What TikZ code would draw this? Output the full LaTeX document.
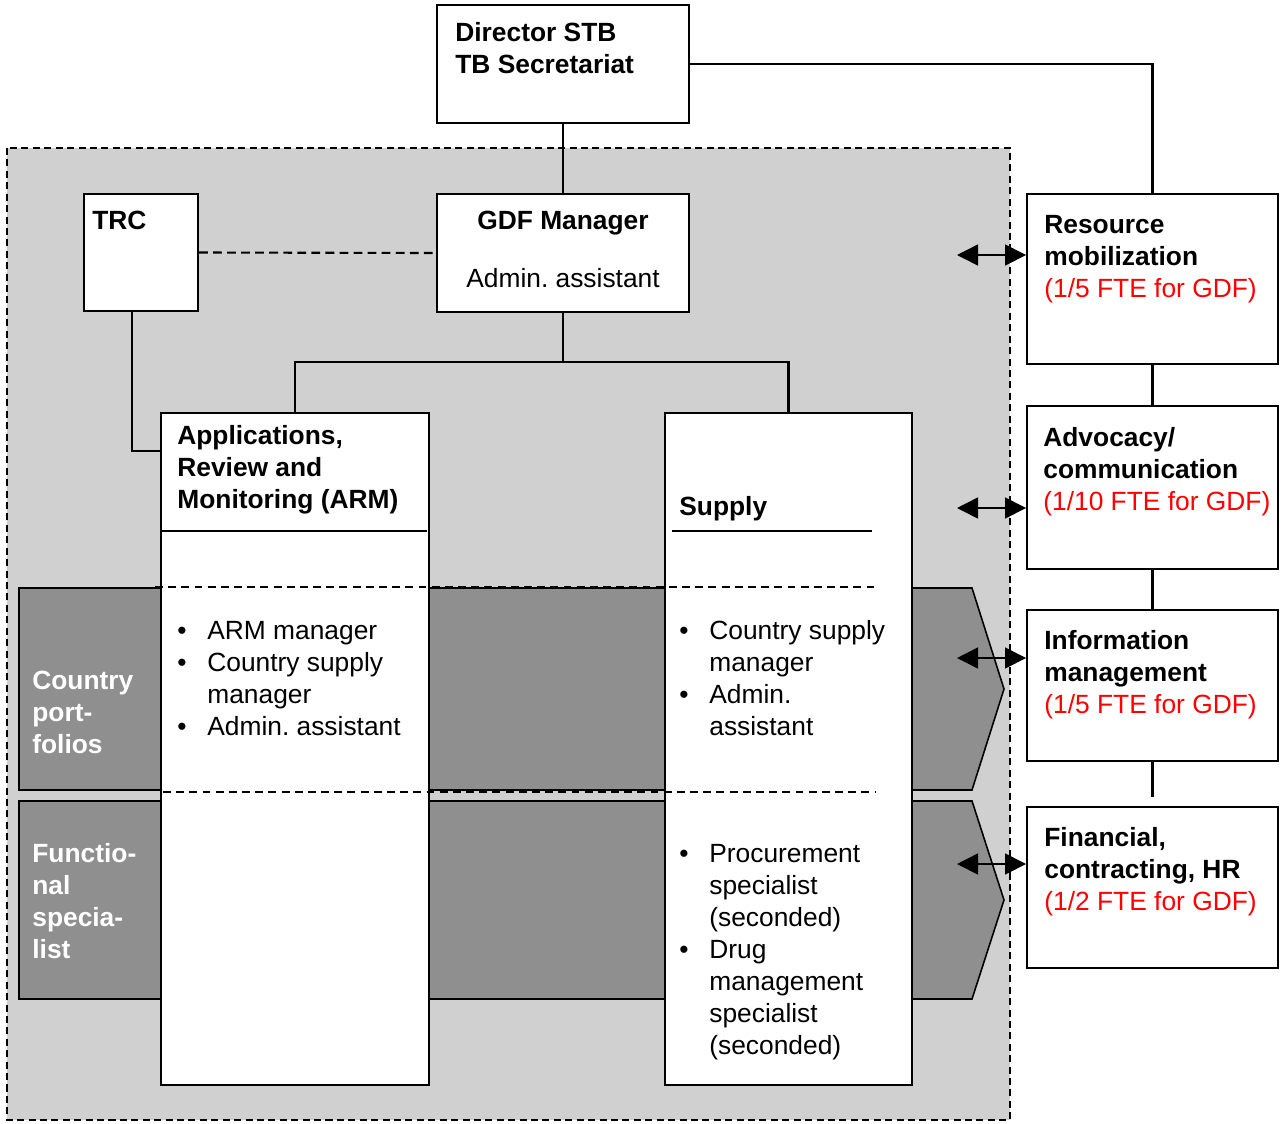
\documentclass[tikz,border=0pt]{standalone}
\usepackage{fontspec}
\setmainfont{Liberation Sans}
\usetikzlibrary{fit,arrows.meta}
\definecolor{paneGray}{HTML}{D0D0D0}
\definecolor{bandGray}{HTML}{8F8F8F}
\definecolor{fteRed}{HTML}{FF0000}
\newcommand{\itm}{\makebox[0.6cm][l]{\textbullet}}
\newcommand{\ind}{\hspace*{0.6cm}}
\frenchspacing

\begin{document}
\begin{tikzpicture}[x=0.02cm,y=-0.02cm,
  box/.style={draw,fill=white,line width=1.1pt,inner sep=0pt},
  txt/.style={anchor=north west,inner sep=0pt,align=left,font=\fontsize{15}{18.2}\selectfont},
  ctxt/.style={anchor=north,inner sep=0pt,font=\fontsize{15}{18.2}\selectfont},
  band/.style={draw,fill=bandGray,line width=0.9pt},
  wire/.style={line width=1.3pt},
  dashline/.style={line width=0.9pt,dash pattern=on 4.5pt off 3pt},
  dbl/.style={line width=0.9pt,{Triangle[length=0.42cm,width=0.42cm]}-{Triangle[length=0.42cm,width=0.42cm]}}]
\useasboundingbox (0,0) rectangle (1287,1123);
% grey GDF area
\draw [fill=paneGray, line width=0.8pt, dash pattern=on 4pt off 2.5pt] (7,148) rectangle (1010,1120);
% the two rows
\draw [band] (19,588) -- (972,588) -- (1004,689) -- (972,790) -- (19,790) -- cycle;
\draw [band] (19,801) -- (972,801) -- (1004,900) -- (972,999) -- (19,999) -- cycle;
% boxes
\node [box, fit={(437,5) (689,123)}] (dir) {};
\node [box, fit={(84,194) (198,311)}] (trc) {};
\node [box, fit={(437,194) (689,312)}] (gdf) {};
\node [box, fit={(161,413) (429,1085)}] (arm) {};
\node [box, fit={(665,413) (912,1085)}] (sup) {};
\node [box, fit={(1027,194) (1278,364)}] (res) {};
\node [box, fit={(1027,406) (1278,569)}] (adv) {};
\node [box, fit={(1027,610) (1278,761)}] (info) {};
\node [box, fit={(1027,807) (1278,968)}] (fin) {};
\draw [line width=0.9pt] (161,531) -- (427,531);
\draw [line width=0.9pt] (672,531) -- (872,531);
\draw [dashline] (155,587) -- (878,587);
\draw [dashline] (163,792) -- (875,792);
% connectors
\coordinate (split) at (563,362);
\coordinate (trcfoot) at (132,451);
\draw [wire] (dir.south) -- (gdf.north);
\draw [wire] (gdf.south) -- (split) -| (arm.north);
\draw [wire] (split) -| (sup.north);
\draw [wire] (trc.south -| trcfoot) -- (trcfoot) -- (trcfoot -| arm.west);
\draw [line width=1.2pt, dash pattern=on 5pt off 3pt] (trc.east) -- (gdf.west);
\draw [wire] (dir.east) -| (res.north);
\draw [wire] (res.south) -- (adv.north);
\draw [wire] (adv.south) -- (info.north);
\draw [wire] (info.south) -- ++(0,35);
\coordinate (ar1) at (957,255);
\coordinate (ar2) at (957,508);
\coordinate (ar3) at (957,658);
\coordinate (ar4) at (957,864);
\draw [dbl] (ar1) -- (ar1 -| res.west);
\draw [dbl] (ar2) -- (ar2 -| adv.west);
\draw [dbl] (ar3) -- (ar3 -| info.west);
\draw [dbl] (ar4) -- (ar4 -| fin.west);
% texts
\node [txt, font=\fontsize{15}{18.2}\selectfont\bfseries] (dirtxt) at (455,22) {Director STB\\TB Secretariat};
\node [txt, font=\fontsize{15}{18.2}\selectfont\bfseries] (trctxt) at (92,211) {TRC};
\node [ctxt, font=\fontsize{15}{18.2}\selectfont\bfseries] (gdftxt) at (563,211) {GDF Manager};
\node [ctxt] (gdfadm) at (563,268) {Admin. assistant};
\node [txt, font=\fontsize{15}{18.2}\selectfont\bfseries] (armtxt) at (177,425) {Applications,\\Review and\\Monitoring (ARM)};
\node [txt, font=\fontsize{15}{18.2}\selectfont\bfseries] (suptxt) at (679,496) {Supply};
\node [txt, text=white, font=\fontsize{15}{18.2}\selectfont\bfseries] (cptxt) at (32,671) {Country\\port-\\folios};
\node [txt, text=white, font=\fontsize{15}{18.2}\selectfont\bfseries] (fstxt) at (32,843) {Functio-\\nal\\specia-\\list};
\node [txt] (armlist) at (177,621) {\itm ARM manager\\\itm Country supply\\\ind manager\\\itm Admin. assistant};
\node [txt] (suplist) at (679,620) {\itm Country supply\\\ind manager\\\itm Admin.\\\ind assistant};
\node [txt] (speclist) at (679,844) {\itm Procurement\\\ind specialist\\\ind (seconded)\\\itm Drug\\\ind management\\\ind specialist\\\ind (seconded)};
\node [txt] (restxt) at (1044,215) {\textbf{Resource}\\\textbf{mobilization}\\\textcolor{fteRed}{(1/5 FTE for GDF)}};
\node [txt] (advtxt) at (1043,427) {\textbf{Advocacy/}\\\textbf{communication}\\\textcolor{fteRed}{(1/10 FTE for GDF)}};
\node [txt] (infotxt) at (1044,630) {\textbf{Information}\\\textbf{management}\\\textcolor{fteRed}{(1/5 FTE for GDF)}};
\node [txt] (fintxt) at (1044,827) {\textbf{Financial,}\\\textbf{contracting, HR}\\\textcolor{fteRed}{(1/2 FTE for GDF)}};
\end{tikzpicture}
\end{document}
